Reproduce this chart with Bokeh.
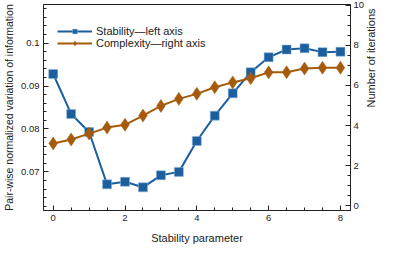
import math
from bokeh.plotting import figure
from bokeh.models import Range1d, LinearAxis, FixedTicker, PrintfTickFormatter, Legend, LegendItem
from bokeh.embed import file_html
from bokeh.resources import INLINE

x_vals = [0, 0.5, 1, 1.5, 2, 2.5, 3, 3.5, 4, 4.5, 5, 5.5, 6, 6.5, 7, 7.5, 8]
stability = [0.0928, 0.0835, 0.0793, 0.0671, 0.0677, 0.0664, 0.0692, 0.0700, 0.0772,
             0.0831, 0.0883, 0.0932, 0.0967, 0.0985, 0.0988, 0.0979, 0.0980]
complexity = [3.11, 3.31, 3.60, 3.90, 4.04, 4.50, 4.98, 5.33, 5.58,
              5.91, 6.15, 6.36, 6.65, 6.66, 6.84, 6.88, 6.88]

x_ticks = [0, 2, 4, 6, 8]
left_ticks = [0.07, 0.08, 0.09, 0.1]
right_ticks = [0, 2, 4, 6, 8, 10]

BLUE = "#1b5f9e"
BROWN = "#a65b0c"
FONT = "Liberation Sans"

p = figure(width=386, height=246, output_backend="svg", toolbar_location=None,
           x_range=Range1d(-0.27, 8.28), y_range=Range1d(0.061, 0.109),
           min_border_left=10, min_border_right=10, min_border_top=4, min_border_bottom=10)
p.extra_y_ranges = {"right": Range1d(-0.23, 10.03)}

p.xgrid.visible = False
p.ygrid.visible = False
p.outline_line_color = "#222222"
p.outline_line_width = 1
p.background_fill_color = "white"
p.border_fill_color = "white"

l1 = p.line(x_vals, stability, line_color=BLUE, line_width=2)
m1 = p.scatter(x_vals, stability, marker="square", size=9, fill_color=BLUE,
               line_color="#8fb3d6", line_width=0.5)
l2 = p.line(x_vals, complexity, line_color=BROWN, line_width=2, y_range_name="right")
m2 = p.scatter(x_vals, complexity, marker="diamond", size=13, fill_color=BROWN,
               line_color=BROWN, line_width=0.5, y_range_name="right")

raxis = LinearAxis(y_range_name="right")
p.add_layout(raxis, "right")

def style(ax):
    ax.major_tick_in = 5
    ax.major_tick_out = 0
    ax.minor_tick_in = 3
    ax.minor_tick_out = 0
    ax.axis_line_color = "#222222"
    ax.major_tick_line_color = "#222222"
    ax.minor_tick_line_color = "#222222"
    ax.major_label_text_font = FONT
    ax.major_label_text_font_size = "9.5px"
    ax.major_label_text_color = "#222222"
    ax.axis_label_text_font = FONT
    ax.axis_label_text_font_size = "11px"
    ax.axis_label_text_font_style = "normal"
    ax.axis_label_text_color = "#222222"
    ax.major_label_standoff = 4
    ax.axis_label_standoff = 3

xa = p.xaxis[0]
style(xa)
xa.ticker = FixedTicker(ticks=x_ticks, minor_ticks=[v * 0.5 for v in range(0, 17)])
xa.axis_label = "Stability parameter"
xa.axis_label_standoff = 8

ya = p.yaxis[0]
style(ya)
ya.ticker = FixedTicker(ticks=left_ticks, minor_ticks=[0.062 + 0.002 * i for i in range(24)])
ya.formatter = PrintfTickFormatter(format="%g")
ya.axis_label = "Pair-wise normalized variation of information"
ya.axis_label_text_font_size = "10.5px"
ya.axis_label_standoff = 3

style(raxis)
raxis.ticker = FixedTicker(ticks=right_ticks, minor_ticks=[0.5 * i for i in range(21)])
raxis.axis_label = "Number of iterations"
raxis.axis_label_orientation = math.pi / 2
raxis.major_label_standoff = 3
raxis.axis_label_standoff = 4

legend = Legend(items=[
    LegendItem(label="Stability\u2014left axis", renderers=[l1, m1]),
    LegendItem(label="Complexity\u2014right axis", renderers=[l2, m2]),
], location=(14, 161))
legend.border_line_color = None
legend.background_fill_alpha = 0
legend.margin = 0
legend.padding = 10
legend.spacing = 0
legend.glyph_width = 35
legend.glyph_height = 12
legend.label_height = 12
legend.label_standoff = 4
legend.label_text_font = FONT
legend.label_text_font_size = "11px"
legend.label_text_color = "#222222"
p.add_layout(legend)

open("out.html", "w").write(file_html(p, INLINE))
